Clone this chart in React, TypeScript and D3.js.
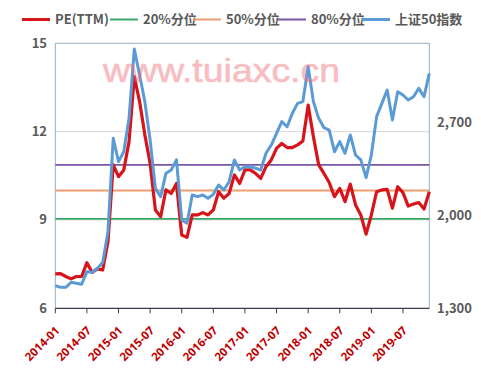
import React from "react";
import * as d3 from "d3";

// ---- data ----
const startYear = 2014;
const months: string[] = [];
for (let y = 0; y < 6; y++) for (let m = 1; m <= 12; m++) months.push(`${startYear + y}-${String(m).padStart(2, "0")}`);

const peTTM = [
  7.17, 7.18, 7.08, 7.0, 7.08, 7.08, 7.55, 7.22, 7.34, 7.3, 8.26, 10.87,
  10.47, 10.7, 11.66, 13.87, 13.02, 11.89, 10.92, 9.34, 9.11, 10.02, 9.9, 10.24,
  8.49, 8.41, 9.17, 9.17, 9.25, 9.17, 9.34, 9.96, 9.74, 9.9, 10.53, 10.24,
  10.7, 10.7, 10.58, 10.41, 10.81, 11.04, 11.43, 11.6, 11.46, 11.46, 11.55, 11.68,
  12.9, 11.83, 10.87, 10.58, 10.27, 9.79, 10.07, 9.62, 10.22, 9.51, 9.17, 8.52,
  9.17, 9.96, 10.02, 10.04, 9.4, 10.13, 9.93, 9.47, 9.54, 9.59, 9.37, 9.96,
];

const sz50 = [
  1471, 1458, 1458, 1496, 1488, 1481, 1576, 1571, 1601, 1644, 1877, 2580,
  2404, 2479, 2730, 3252, 3056, 2856, 2567, 2203, 2141, 2316, 2341, 2417,
  1965, 1940, 2153, 2141, 2153, 2128, 2158, 2228, 2191, 2253, 2417, 2341,
  2366, 2366, 2354, 2341, 2467, 2529, 2617, 2705, 2667, 2768, 2843, 2856,
  3119, 2856, 2730, 2660, 2642, 2479, 2555, 2467, 2605, 2454, 2417, 2284,
  2454, 2743, 2843, 2943, 2718, 2931, 2906, 2868, 2893, 2956, 2893, 3069,
];

const q20 = 9.04;
const q50 = 10.0;
const q80 = 10.87;

const leftTicks = [6, 9, 12, 15];
const rightTicks = [1300, 2000, 2700];
const xTickLabels = ["2014-01", "2014-07", "2015-01", "2015-07", "2016-01", "2016-07", "2017-01", "2017-07", "2018-01", "2018-07", "2019-01", "2019-07"];

const legendItems = [
  { label: "PE(TTM)", color: "#d7141c" },
  { label: "20%分位", color: "#3aa86b" },
  { label: "50%分位", color: "#f0a070" },
  { label: "80%分位", color: "#7a55a5" },
  { label: "上证50指数", color: "#5b9bd5" },
];

// ---- layout ----
const W = 481, H = 378;
const L = 55.3, R = 429.3, T = 43.3, B = 308.3;

export default function App() {
  const x = d3.scalePoint<string>().domain(months).range([L, R]);
  const yL = d3.scaleLinear().domain([6, 15]).range([B, T]);
  const yR = d3.scaleLinear().domain([1300, 3295]).range([B, T]);

  const peLine = d3.line<number>().x((_, i) => x(months[i])!).y((d) => yL(d));
  const idxLine = d3.line<number>().x((_, i) => x(months[i])!).y((d) => yR(d));
  const flat = (v: number) => peLine(months.map(() => v)) || "";

  const font = "'Microsoft YaHei','Noto Sans CJK SC','Noto Sans',sans-serif";
  const legendX = [22, 110, 193, 278, 362];

  return (
    <svg width={W} height={H} style={{ position: "absolute", left: 0, top: 0, background: "#fff" }}>
      <rect x={0} y={0} width={W} height={H} fill="#fff" />
      {/* gridlines */}
      {leftTicks.filter((t) => t !== 6 && t !== 15).map((t) => (
        <line key={t} x1={L} x2={R} y1={yL(t)} y2={yL(t)} stroke="#d9d9d9" strokeWidth={1} />
      ))}
      {/* plot border top/right/left */}
      <line x1={L} x2={R} y1={T} y2={T} stroke="#8fb0c8" strokeWidth={1} />
      <line x1={R} x2={R} y1={T} y2={B} stroke="#8fb0c8" strokeWidth={1} />
      <line x1={L} x2={L} y1={T} y2={B} stroke="#8fb0c8" strokeWidth={1} />

      {/* quantile lines */}
      <path d={flat(q20)} fill="none" stroke="#3aa86b" strokeWidth={1.8} />
      <path d={flat(q50)} fill="none" stroke="#f0a070" strokeWidth={1.8} />
      <path d={flat(q80)} fill="none" stroke="#7a55a5" strokeWidth={1.8} />

      {/* series */}
      <path d={peLine(peTTM) || ""} fill="none" stroke="#d7141c" strokeWidth={3.2} strokeLinejoin="round" />
      <path d={idxLine(sz50) || ""} fill="none" stroke="#5b9bd5" strokeWidth={3} strokeLinejoin="round" />

      {/* bottom axis */}
      <line x1={L} x2={R} y1={B} y2={B} stroke="#403848" strokeWidth={1.2} />
      {xTickLabels.map((lab) => {
        const tx = x(lab)!;
        return (
          <g key={lab}>
            <line x1={tx} x2={tx} y1={B} y2={B + 5} stroke="#403848" strokeWidth={1} />
            <text
              transform={`translate(${tx + 5},${B + 23}) rotate(-45)`}
              textAnchor="end"
              fontFamily="'Noto Sans','Open Sans',sans-serif"
              fontWeight="bold"
              fontSize={11.5}
              fill="#c00000"
            >
              {lab}
            </text>
          </g>
        );
      })}

      {/* left axis labels */}
      {leftTicks.map((t) => (
        <text key={t} x={47} y={yL(t) + 4.5} textAnchor="end" fontFamily={font} fontWeight="bold" fontSize={13} fill="#595959">
          {t}
        </text>
      ))}
      {/* right axis labels */}
      {rightTicks.map((t) => (
        <text key={t} x={437} y={yR(t) + 4.5} textAnchor="start" fontFamily={font} fontWeight="bold" fontSize={13} fill="#595959">
          {d3.format(",")(t)}
        </text>
      ))}

      {/* legend */}
      {legendItems.map((it, i) => (
        <g key={it.label}>
          <line x1={legendX[i]} x2={legendX[i] + 28} y1={19.5} y2={19.5} stroke={it.color} strokeWidth={it.label === "PE(TTM)" || it.label === "上证50指数" ? 3 : 2} />
          <text x={legendX[i] + 33} y={24} fontFamily={font} fontWeight="bold" fontSize={13} fill="#595959">
            {it.label}
          </text>
        </g>
      ))}

      {/* watermark */}
      <text x={103} y={82} fontFamily="'Liberation Sans',Arial,sans-serif" fontSize={33} fill="rgb(240,110,120)" stroke="rgb(240,110,120)" strokeWidth={0.6} opacity={0.45} textLength={237} lengthAdjust="spacingAndGlyphs">
        www.tuiaxc.cn
      </text>
    </svg>
  );
}
